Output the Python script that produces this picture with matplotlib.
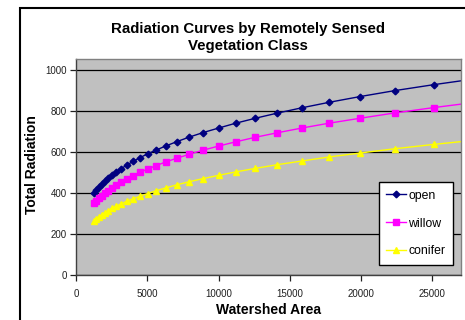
import matplotlib
matplotlib.use("Agg")
import matplotlib.pyplot as plt
from matplotlib.patches import Rectangle

plt.rcParams['font.family'] = ['Liberation Sans', 'DejaVu Sans']

area = [1259, 1413, 1585, 1778, 1995, 2239, 2512, 2818, 3162, 3548, 3981, 4467,
        5012, 5623, 6310, 7079, 7943, 8913, 10000, 11220, 12589, 14125, 15849,
        17783, 19953, 22387, 25119, 28184]
open_vals = [402, 415, 429, 443, 457, 472, 488, 504, 520, 537, 555, 573, 592, 611,
             631, 652, 674, 696, 718, 742, 766, 791, 817, 844, 872, 901, 930, 960]
willow_vals = [350, 362, 374, 386, 399, 412, 426, 440, 455, 470, 485, 501, 518, 535,
               553, 571, 590, 610, 630, 651, 673, 695, 718, 742, 766, 792, 818, 845]
conifer_vals = [266, 275, 285, 294, 304, 315, 326, 337, 348, 360, 372, 385, 398, 412,
                426, 441, 456, 471, 487, 504, 521, 539, 557, 577, 596, 617, 638, 660]
x_ticks = [0, 5000, 10000, 15000, 20000, 25000]
y_ticks = [0, 200, 400, 600, 800, 1000]

fig = plt.figure(figsize=(4.65, 3.2), dpi=100)
fig.patch.set_facecolor('white')

# outer chart frame
fig.patches.append(Rectangle((19.5/465, -0.2), 1.2, 1.2 - 8/320, transform=fig.transFigure,
                             fill=False, edgecolor='black', linewidth=1.5, zorder=0))

ax = fig.add_axes([76.3/465, 1-275/320, (461-76.3)/465, (275-59.3)/320])
ax.set_facecolor('#C0C0C0')
ax.set_xlim(0, 27040)
ax.set_ylim(0, 1054)
ax.set_xticks(x_ticks)
ax.set_yticks(y_ticks)
ax.yaxis.grid(True, color='black', linewidth=0.9)
ax.set_axisbelow(True)
for s in ['top', 'right']:
    ax.spines[s].set_color('#808080')
    ax.spines[s].set_linewidth(1.0)
for s in ['left', 'bottom']:
    ax.spines[s].set_color('#404040')
    ax.spines[s].set_linewidth(1.0)
ax.tick_params(axis='both', direction='out', length=4, width=0.9, labelsize=7,
               colors='#202020', pad=3)
ax.tick_params(axis='x', pad=6)

ax.plot(area, open_vals, color='#000080', marker='D', markersize=3.4, linewidth=1.0,
        label='open')
ax.plot(area, willow_vals, color='#FF00FF', marker='s', markersize=4.0, linewidth=1.0,
        label='willow')
ax.plot(area, conifer_vals, color='#FFFF00', marker='^', markersize=4.4, linewidth=1.0,
        label='conifer')

leg = ax.legend(loc='upper left', bbox_to_anchor=(379/465, 1-182.3/320),
                bbox_transform=fig.transFigure, fontsize=8.8, frameon=True,
                fancybox=False, edgecolor='black', framealpha=1, labelspacing=1.3,
                handlelength=1.6, handletextpad=0.2, borderpad=0.6, borderaxespad=0)
leg.get_frame().set_linewidth(1.0)

fig.text(247.5/465, 1-37.5/320, 'Radiation Curves by Remotely Sensed\nVegetation Class',
         ha='center', va='center', fontsize=10.8, fontweight='bold', linespacing=1.22)
fig.text(268/465, 1-310/320, 'Watershed Area', ha='center', va='center',
         fontsize=10, fontweight='bold')
fig.text(32/465, 1-165/320, 'Total Radiation', ha='center', va='center',
         fontsize=10, fontweight='bold', rotation=90)

fig.savefig('out.png', dpi=100)
